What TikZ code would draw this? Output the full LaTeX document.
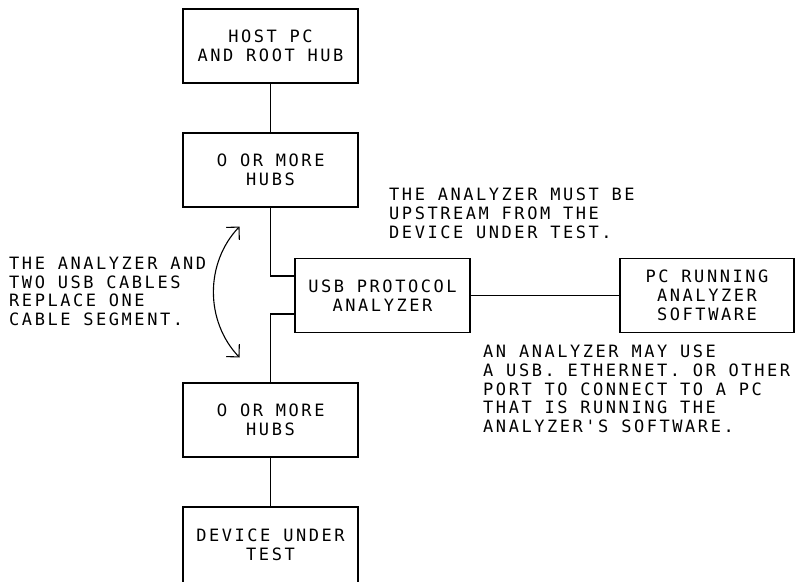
\documentclass[tikz,border=0pt]{standalone}
\usepackage{fontspec}
\setmonofont[LetterSpace=15]{DejaVu Sans Mono}
\newfontfamily\zerofont[LetterSpace=15]{DejaVu Sans}
\usetikzlibrary{arrows.meta}
\newcommand{\zr}{{\zerofont 0}}
\begin{document}
\begin{tikzpicture}[x=1pt,y=-1pt,
  every node/.style={font=\ttfamily\fontsize{17}{18.7}\selectfont, inner sep=0pt},
  blk/.style={draw, line width=1.1pt, minimum width=175pt, minimum height=74pt, align=center},
  wire/.style={line width=1.1pt},
  note/.style={align=left, anchor=north west}]
\useasboundingbox (0,0) rectangle (795,581);

% boxes
\node[blk] (host) at (270.5,46)  {HOST PC\\AND ROOT HUB};
\node[blk] (hubsA) at (270.5,170) {\zr{} OR MORE\\HUBS};
\node[blk] (ana)  at (382.5,295.5) {USB PROTOCOL\\ANALYZER};
\node[blk, minimum width=174pt] (pc) at (707,295.5) {PC RUNNING\\ANALYZER\\SOFTWARE};
\node[blk] (hubsB) at (270.5,420) {\zr{} OR MORE\\HUBS};
\node[blk, minimum height=100pt] (dut) at (270.5,557) {};
\node (duttext) at (270.5,545) [align=center] {DEVICE UNDER\\TEST};

% cables
\draw[wire] (host) -- (hubsA);
\draw[wire] (hubsA.south) |- ([yshift=19.5pt]ana.west);
\draw[wire] ([yshift=-18.5pt]ana.west) -| (hubsB.north);
\draw[wire] (hubsB) -- (dut);
\draw[wire] (ana) -- (pc);

% notes
\node[note] (n1) at (9,257) {THE ANALYZER AND\\TWO USB CABLES\\REPLACE ONE\\CABLE SEGMENT.};
\node[note] (n2) at (389,188) {THE ANALYZER MUST BE\\UPSTREAM FROM THE\\DEVICE UNDER TEST.};
\node[note] (n3) at (483,345) {AN ANALYZER MAY USE\\A USB. ETHERNET. OR OTHER\\PORT TO CONNECT TO A PC\\THAT IS RUNNING THE\\ANALYZER'S SOFTWARE.};

% double-headed arc
\coordinate (arcTop) at (239.5,226.5);
\coordinate (arcBot) at (239.5,357.5);
\draw[line width=1.1pt, {Straight Barb[length=9pt,width=18pt]}-{Straight Barb[length=9pt,width=18pt]}]
  (arcTop) .. controls (205,263) and (205,321) .. (arcBot);
\end{tikzpicture}
\end{document}
